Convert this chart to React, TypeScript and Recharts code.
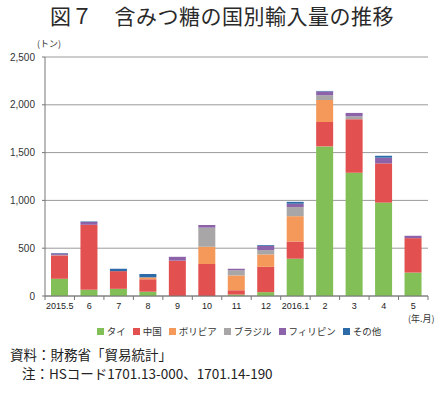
import React from 'react';
import { BarChart, Bar, XAxis, YAxis, CartesianGrid } from 'recharts';

const months = ['2015.5', '6', '7', '8', '9', '10', '11', '12', '2016.1', '2', '3', '4', '5'];
const thai = [180, 65, 75, 45, 0, 0, 15, 40, 390, 1565, 1290, 977, 245];
const china = [245, 680, 185, 130, 370, 335, 45, 265, 180, 255, 560, 410, 360];
const bolivia = [0, 0, 0, 20, 0, 180, 155, 130, 265, 230, 0, 0, 0];
const brazil = [5, 0, 0, 0, 0, 200, 55, 45, 95, 50, 30, 0, 0];
const philippines = [15, 30, 0, 0, 40, 28, 15, 45, 35, 40, 35, 60, 25];
const others = [5, 5, 25, 35, 0, 0, 0, 8, 20, 5, 0, 20, 0];
const yTicks = [0, 500, 1000, 1500, 2000, 2500];

const SERIES = [
  { key: 'thai', name: 'タイ', color: '#82bf56', values: thai },
  { key: 'china', name: '中国', color: '#e2504f', values: china },
  { key: 'bolivia', name: 'ボリビア', color: '#f4995a', values: bolivia },
  { key: 'brazil', name: 'ブラジル', color: '#a8a6a6', values: brazil },
  { key: 'philippines', name: 'フィリピン', color: '#8c62a9', values: philippines },
  { key: 'others', name: 'その他', color: '#2c6aa8', values: others },
];

const data = months.map((m, i) => {
  const row: Record<string, string | number> = { month: m };
  SERIES.forEach((s) => {
    row[s.key] = s.values[i];
  });
  return row;
});

const JP = '"Noto Sans CJK JP", "Noto Sans", sans-serif';
const NUM = '"Liberation Sans", Arial, sans-serif';

// month label plus tick marks on the category boundaries
function MonthTick(props: any) {
  const { x, y, payload, index } = props;
  const half = payload && payload.offset ? payload.offset : 14.7;
  return (
    <g>
      <line x1={x - half} x2={x - half} y1={y} y2={y + 4} stroke="#777" />
      {index === months.length - 1 && (
        <line x1={x + half} x2={x + half} y1={y} y2={y + 4} stroke="#777" />
      )}
      <text x={x} y={y + 13} textAnchor="middle" fontSize={9} fill="#222" fontFamily={NUM}>
        {payload.value}
      </text>
    </g>
  );
}

export default function App() {
  return (
    <div style={{ position: 'absolute', left: 0, top: 0, width: 444, height: 394, background: '#fff', fontFamily: JP, lineHeight: 1 }}>
      <div style={{ position: 'absolute', top: 3, left: 0, width: 444, lineHeight: '24px', textAlign: 'center', fontSize: 21, fontWeight: 400, color: '#2a2a2a', letterSpacing: 0.5 }}>
        図７　含みつ糖の国別輸入量の推移
      </div>
      <div style={{ position: 'absolute', top: 39, left: 37, fontSize: 9, color: '#333' }}>(トン)</div>
      <BarChart
        width={444}
        height={394}
        data={data}
        margin={{ top: 57, right: 16, bottom: 78, left: 0 }}
        barSize={17}
      >
        <CartesianGrid vertical={false} stroke="#9a9a9a" />
        <XAxis
          dataKey="month"
          height={20}
          tickSize={0}
          tickMargin={0}
          tickLine={false}
          axisLine={{ stroke: '#777' }}
          tick={<MonthTick />}
          interval={0}
        />
        <YAxis
          width={45}
          domain={[0, 2500]}
          ticks={yTicks}
          tickSize={3}
          tickMargin={7}
          tickLine={{ stroke: '#777' }}
          axisLine={{ stroke: '#777' }}
          tick={{ fontSize: 10, fill: '#333', fontFamily: NUM }}
          tickFormatter={(v: number) => v.toLocaleString('en-US')}
        />
        {SERIES.map((s) => (
          <Bar key={s.key} dataKey={s.key} stackId="a" fill={s.color} isAnimationActive={false} />
        ))}
      </BarChart>
      <div style={{ position: 'absolute', top: 314, left: 408, fontSize: 9, color: '#333' }}>(年.月)</div>
      <div style={{ position: 'absolute', top: 327, left: 0, width: 444, display: 'flex', justifyContent: 'center', paddingLeft: 34, boxSizing: 'border-box', gap: 7, fontSize: 9.5, color: '#333' }}>
        {SERIES.map((s) => (
          <div key={s.key} style={{ display: 'flex', alignItems: 'center' }}>
            <span style={{ display: 'inline-block', width: 7, height: 7, background: s.color, marginRight: 3 }} />
            {s.name}
          </div>
        ))}
      </div>
      <div style={{ position: 'absolute', top: 348, left: 10, fontSize: 13.5, color: '#222' }}>資料：財務省「貿易統計」</div>
      <div style={{ position: 'absolute', top: 367, left: 22, fontSize: 13.5, color: '#222' }}>注：HSコード1701.13-000、1701.14-190</div>
    </div>
  );
}
